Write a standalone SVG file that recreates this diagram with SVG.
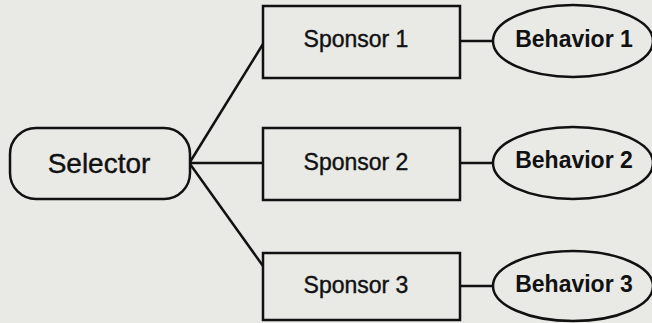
<svg xmlns="http://www.w3.org/2000/svg" width="652" height="323" viewBox="0 0 652 323">
<style>
.s{fill:none;stroke:#111;stroke-width:2.5}
.n{fill:none;stroke:#111;stroke-width:2.5}
.t{font-family:"Liberation Sans",Arial,sans-serif;fill:#111;text-anchor:middle;stroke:#111;stroke-width:0.4}
.sp{font-size:23px}
.b{font-size:23px;font-weight:bold;stroke-width:0}
</style>
<rect width="652" height="323" fill="#e9e9e6"/>
<g id="connectors">
<line class="s" x1="190" y1="162" x2="263" y2="44"/>
<line class="s" x1="190" y1="163" x2="263" y2="163"/>
<line class="s" x1="190" y1="164" x2="263" y2="266"/>
<line class="s" x1="460" y1="41" x2="494" y2="41"/>
<line class="s" x1="460" y1="163" x2="494" y2="163"/>
<line class="s" x1="460" y1="286" x2="494" y2="286"/>
</g>
<g id="selector">
<rect class="n" x="10" y="128" width="180" height="71" rx="26"/>
<text class="t" x="99" y="173" font-size="28">Selector</text>
</g>
<g id="sponsor1">
<rect class="n" x="263" y="6" width="197" height="72"/>
<text class="t sp" x="356" y="47">Sponsor 1</text>
</g>
<g id="sponsor2">
<rect class="n" x="263" y="128" width="197" height="72"/>
<text class="t sp" x="356" y="170">Sponsor 2</text>
</g>
<g id="sponsor3">
<rect class="n" x="263" y="253" width="197" height="67"/>
<text class="t sp" x="356" y="293">Sponsor 3</text>
</g>
<g id="behavior1">
<ellipse class="n" cx="573" cy="41" rx="80" ry="36"/>
<text class="t b" x="574" y="47">Behavior 1</text>
</g>
<g id="behavior2">
<ellipse class="n" cx="573" cy="163" rx="80" ry="36"/>
<text class="t b" x="574" y="168">Behavior 2</text>
</g>
<g id="behavior3">
<ellipse class="n" cx="573" cy="286" rx="80" ry="35"/>
<text class="t b" x="574" y="292">Behavior 3</text>
</g>
</svg>
